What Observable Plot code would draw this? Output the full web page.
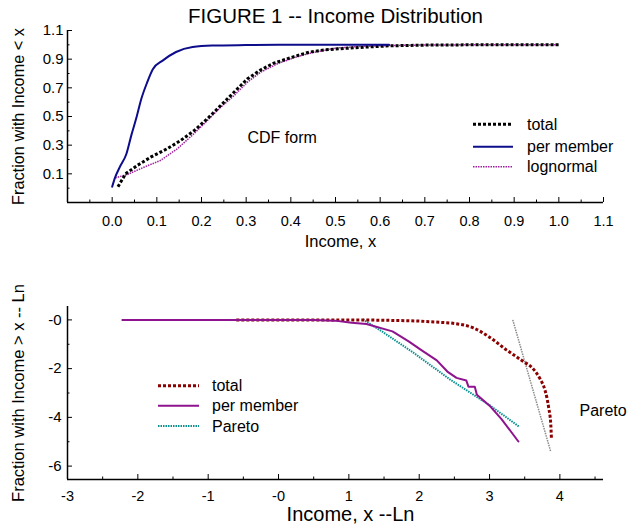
<!DOCTYPE html>
<html><head><meta charset="utf-8">
<script src="https://cdn.jsdelivr.net/npm/d3@7"></script>
<script src="https://cdn.jsdelivr.net/npm/@observablehq/plot@0.6"></script>
<style>
body{margin:0;background:#fff;}
#chart{width:631px;height:527px;}
#chart svg{display:block;}
</style></head><body><div id="chart"></div>
<script>
const FONT = "'Liberation Sans', Arial, Helvetica, sans-serif";

// ---------- top panel: CDF form ----------
const cdfTotal = [[0.013,0.01],[0.03,0.1],[0.056,0.158],[0.086,0.216],[0.123,0.275],[0.153,0.332],[0.183,0.40],[0.213,0.484],[0.243,0.577],[0.273,0.67],[0.303,0.763],[0.333,0.826],[0.362,0.872],[0.407,0.918],[0.441,0.949],[0.475,0.965],[0.52,0.975],[0.566,0.984],[0.62,0.993],[0.7,0.998],[0.8,1.0],[1.0,1.0]];
const cdfPerMember = [[0.0,0.01],[0.006,0.07],[0.017,0.147],[0.032,0.24],[0.043,0.37],[0.055,0.5],[0.065,0.62],[0.078,0.735],[0.091,0.83],[0.113,0.89],[0.143,0.95],[0.18,0.985],[0.224,0.995],[0.3,0.998],[0.4,1.0],[0.62,1.0]];
const cdfLognormal = [[0.007,0.072],[0.034,0.095],[0.071,0.146],[0.108,0.193],[0.146,0.275],[0.183,0.38],[0.213,0.472],[0.243,0.565],[0.273,0.646],[0.303,0.74],[0.333,0.81],[0.37,0.868],[0.407,0.91],[0.441,0.94],[0.5,0.977],[0.55,0.988],[0.62,0.995],[0.7,0.999],[0.8,1.0],[1.0,1.0]];
const topXDomain = [-0.1, 1.1];
const topYDomain = [-0.1, 1.1];
const topXTicks = [0,0.1,0.2,0.3,0.4,0.5,0.6,0.7,0.8,0.9,1.0,1.1];
const topXMinor = [-0.05,0.05,0.15,0.25,0.35,0.45,0.55,0.65,0.75,0.85,0.95,1.05];
const topYTicks = [0.1,0.3,0.5,0.7,0.9,1.1];
const topYMinor = [0.0,0.2,0.4,0.6,0.8,1.0];
const topSeries = ["total","per member","lognormal"];

// ---------- bottom panel: log form ----------
const lnTotal = [[-0.6,0],[1.0,0],[1.6,-0.02],[2.0,-0.05],[2.29,-0.1],[2.48,-0.14],[2.77,-0.33],[3.0,-0.71],[3.24,-1.23],[3.46,-1.67],[3.62,-2.01],[3.72,-2.43],[3.79,-2.9],[3.84,-3.59],[3.87,-4.27],[3.88,-4.89]];
const lnPerMember = [[-2.22,0],[0.5,0],[0.8,-0.03],[1.04,-0.12],[1.25,-0.17],[1.62,-0.47],[1.85,-0.88],[2.02,-1.22],[2.25,-1.66],[2.4,-2.12],[2.53,-2.38],[2.67,-2.49],[2.70,-2.74],[2.79,-2.74],[2.82,-3.07],[3.0,-3.52],[3.17,-4.07],[3.41,-4.99]];
const lnPareto = [[1.2,0.02],[1.49,-0.51],[1.91,-1.33],[2.44,-2.45],[3.0,-3.5],[3.42,-4.38]];
const lnParetoTotal = [[3.33,0],[3.87,-5.41]];
const botXDomain = [-3, 4.62];
const botYDomain = [-6.55, 0.55];
const botXTicks = [-3,-2,-1,0,1,2,3,4];
const botXMinor = [-2.5,-1.5,-0.5,0.5,1.5,2.5,3.5,4.5];
const botYTicks = [0,-2,-4,-6];
const botYMinor = [-1,-3,-5];
const botSeries = ["total","per member","Pareto"];

const fmt1 = d => d.toFixed(1);
const fmtLn = d => d === 0 ? "-0" : (d < 0 ? "-" + Math.abs(d) : String(d));

function axes(xT, xM, yT, yM, xFmt, yFmt, xPad, yPad, xDom, yDom) {
  return [
    Plot.ruleX([xDom[0]], {stroke:"#000", strokeWidth:1.5}),
    Plot.ruleY([yDom[0]], {stroke:"#000", strokeWidth:1.5}),
    Plot.axisX(xT, {anchor:"bottom", tickSize:-5, fill:"none", stroke:"#000", label:null}),
    Plot.axisX(xM, {anchor:"bottom", tickSize:-2.5, fill:"none", stroke:"#000", label:null}),
    Plot.axisX(xT, {anchor:"bottom", tickSize:0, tickPadding:xPad, tickFormat:xFmt, fontSize:14.5, fill:"#000", label:null}),
    Plot.axisY(yT, {anchor:"left", tickSize:-5, fill:"none", stroke:"#000", label:null}),
    Plot.axisY(yM, {anchor:"left", tickSize:-2.5, fill:"none", stroke:"#000", label:null}),
    Plot.axisY(yT, {anchor:"left", tickSize:0, tickPadding:yPad, tickFormat:yFmt, fontSize:15, fill:"#000", label:null})
  ];
}

const topStyles = {
  "total": {stroke:"#000", strokeWidth:3, strokeDasharray:"3,2"},
  "per member": {stroke:"#0d0d8c", strokeWidth:2},
  "lognormal": {stroke:"#a0209f", strokeWidth:1.5, strokeDasharray:"1.5,1"}
};
const botStyles = {
  "total": {stroke:"#8b0000", strokeWidth:3, strokeDasharray:"3,2"},
  "per member": {stroke:"#8e138e", strokeWidth:2},
  "Pareto": {stroke:"#0a9090", strokeWidth:2, strokeDasharray:"1.5,1"}
};
const butt = {strokeLinecap:"butt", strokeLinejoin:"miter"};
const mid = {lineAnchor:"middle", fill:"#000"};

const topChart = Plot.plot({
  width:631, height:262, marginLeft:67, marginRight:28, marginTop:30, marginBottom:60,
  x:{domain:topXDomain}, y:{domain:topYDomain},
  style:{fontFamily:FONT, background:"white", color:"#000", overflow:"visible"},
  marks:[
    ...axes(topXTicks, topXMinor, topYTicks, topYMinor, fmt1, fmt1, 13, 4, topXDomain, topYDomain),
    Plot.line(cdfLognormal, {x:d=>d[0], y:d=>d[1], ...butt, ...topStyles["lognormal"]}),
    Plot.line(cdfTotal, {x:d=>d[0], y:d=>d[1], ...butt, ...topStyles["total"]}),
    Plot.line(cdfPerMember, {x:d=>d[0], y:d=>d[1], curve:"monotone-x", ...topStyles["per member"]}),
    Plot.text(["FIGURE 1 -- Income Distribution"], {text:d=>d, frameAnchor:"top", textAnchor:"middle", dy:-14, fontSize:20.5, ...mid}),
    Plot.text(["CDF form"], {text:d=>d, frameAnchor:"top-left", dx:180, dy:107, textAnchor:"start", fontSize:16, ...mid}),
    Plot.text(["Income, x"], {text:d=>d, frameAnchor:"bottom", textAnchor:"middle", dx:5, dy:39.5, fontSize:16.5, ...mid}),
    Plot.text(["Fraction with Income < x"], {text:d=>d, frameAnchor:"left", textAnchor:"middle", dx:-48.5, rotate:-90, fontSize:16.3, ...mid})
  ]
});

const bottomChart = Plot.plot({
  width:631, height:265, marginLeft:67, marginRight:28, marginTop:44, marginBottom:48,
  x:{domain:botXDomain}, y:{domain:botYDomain},
  style:{fontFamily:FONT, background:"white", color:"#000", overflow:"visible"},
  marks:[
    ...axes(botXTicks, botXMinor, botYTicks, botYMinor, fmtLn, fmtLn, 11, 6, botXDomain, botYDomain),
    Plot.line(lnParetoTotal, {x:d=>d[0], y:d=>d[1], stroke:"#8a8a8a", strokeWidth:1.5, strokeDasharray:"1.5,1", ...butt}),
    Plot.line(lnPareto, {x:d=>d[0], y:d=>d[1], ...butt, ...botStyles["Pareto"]}),
    Plot.line(lnTotal, {x:d=>d[0], y:d=>d[1], curve:"monotone-x", ...butt, ...botStyles["total"]}),
    Plot.line(lnPerMember, {x:d=>d[0], y:d=>d[1], ...botStyles["per member"]}),
    Plot.text(["Pareto"], {text:d=>d, frameAnchor:"top-left", dx:512, dy:104, textAnchor:"start", fontSize:16, ...mid}),
    Plot.text(["Income, x --Ln"], {text:d=>d, frameAnchor:"bottom", textAnchor:"middle", dx:15, dy:35, fontSize:20, ...mid}),
    Plot.text(["Fraction with Income > x -- Ln"], {text:d=>d, frameAnchor:"left", textAnchor:"middle", dx:-49, rotate:-90, fontSize:16.5, ...mid})
  ]
});

function legend(svg, names, styles, x0, x1, xt, ys) {
  const g = d3.select(svg).append("g").attr("font-family", FONT).attr("font-size", 16).attr("text-anchor", "start");
  names.forEach((n, i) => {
    const s = styles[n];
    g.append("line").attr("x1", x0).attr("x2", x1).attr("y1", ys[i]).attr("y2", ys[i])
      .attr("stroke", s.stroke).attr("stroke-width", s.strokeWidth)
      .attr("stroke-dasharray", s.strokeDasharray || null);
    g.append("text").attr("x", xt).attr("y", ys[i]).attr("dy", "0.35em").attr("fill", "#000").text(n);
  });
}
legend(topChart, topSeries, topStyles, 473, 513, 527, [124.3, 146.7, 166.7]);
legend(bottomChart, botSeries, botStyles, 158, 199, 212, [123.7, 143.7, 164]);

document.getElementById("chart").append(topChart, bottomChart);
</script></body></html>
